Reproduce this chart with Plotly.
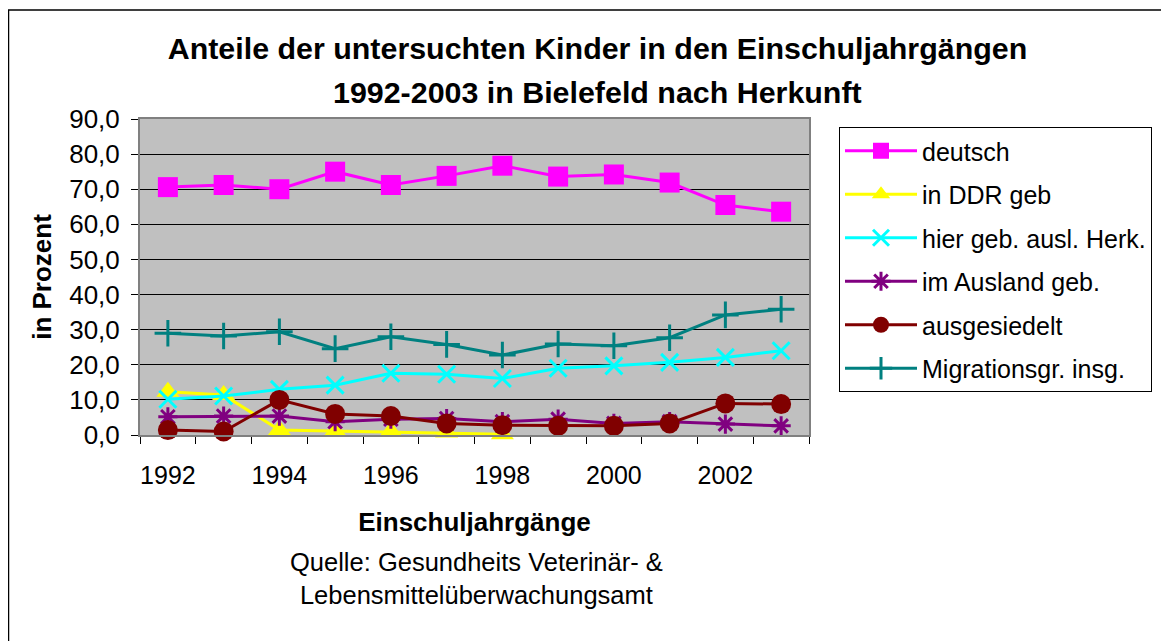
import plotly.graph_objects as go

years = list(range(1992, 2004))
deutsch = [70.6, 71.2, 70.0, 75.0, 71.2, 73.8, 76.7, 73.6, 74.2, 71.9, 65.5, 63.6]
ddr = [12.3, 11.4, 1.4, 1.1, 1.0, 0.7, 0.2, None, None, None, None, None]
hier = [10.2, 11.1, 13.0, 14.2, 17.6, 17.3, 16.1, 19.0, 19.7, 20.7, 22.1, 24.0]
ausland = [5.2, 5.4, 5.4, 3.8, 4.5, 4.7, 3.8, 4.5, 3.3, 3.8, 3.1, 2.6]
ausgesiedelt = [1.4, 1.0, 10.0, 6.0, 5.4, 3.3, 2.8, 2.6, 2.6, 3.3, 9.0, 8.8]
migration = [29.0, 28.2, 29.4, 24.6, 28.0, 25.8, 22.8, 25.9, 25.4, 27.7, 34.2, 35.8]
tick_years = [1992, 1994, 1996, 1998, 2000, 2002]

series = [
    ("deutsch", deutsch, "#FF00FF", "square", 20, 0),
    ("in DDR geb", ddr, "#FFFF00", "triangle-up", 20, 0),
    ("hier geb. ausl. Herk.", hier, "#00FFFF", "x-thin-open", 17, 3),
    ("im Ausland geb.", ausland, "#800080", "asterisk-open", 16, 3),
    ("ausgesiedelt", ausgesiedelt, "#800000", "circle", 20, 0),
    ("Migrationsgr. insg.", migration, "#008080", "cross-thin-open", 19, 3),
]

FONT = "Liberation Sans, Arial, sans-serif"
W, H = 1161, 633          # page has an 8px body margin
L, R, T, B = 132, 801, 111, 427   # plot area in figure pixels
PW, PH = R - L, B - T

def px(x):
    return (x - L) / PW

def py(y):
    return (B - y) / PH

fig = go.Figure()
for i, (name, vals, col, sym, size, lw) in enumerate(series):
    marker = dict(symbol=sym, size=size, color=col)
    if lw:
        marker["line"] = dict(color=col, width=lw)
    else:
        marker["line"] = dict(width=0)
    fig.add_trace(go.Scatter(
        x=years, y=vals, name=name, mode="lines+markers",
        line=dict(color=col, width=3), marker=marker,
        cliponaxis=False, legendgroup=f"g{i}",
    ))

fig.update_layout(
    width=W, height=H,
    margin=dict(l=L, r=W - R, t=T, b=H - B),
    paper_bgcolor="white", plot_bgcolor="#C0C0C0",
    separators=",.",
    font=dict(family=FONT, size=25, color="black"),
    title=dict(
        text="<b>Anteile der untersuchten Kinder in den Einschuljahrgängen</b>",
        x=589.5 / W, xanchor="center", y=1 - 40 / H, yanchor="middle",
        font=dict(family=FONT, size=30.4, color="black"),
    ),
    showlegend=True,
    legend=dict(
        x=px(831), xanchor="left", y=py(119), yanchor="top",
        bordercolor="black", borderwidth=1, bgcolor="white",
        font=dict(family=FONT, size=25, color="black"),
        itemwidth=72, tracegroupgap=8, traceorder="grouped",
    ),
    xaxis=dict(
        range=[1991.5, 2003.5], tickmode="array", tickvals=tick_years,
        ticktext=[str(y) for y in tick_years], ticks="", showgrid=False,
        zeroline=False, showline=True, linecolor="#808080", linewidth=2, mirror=True,
        tickfont=dict(size=25), ticklabelstandoff=17,
        minor=dict(tick0=1991.5, dtick=1, ticks="outside", ticklen=7,
                   tickcolor="black", tickwidth=1, showgrid=False),
        title=dict(text="<b>Einschuljahrgänge</b>", font=dict(size=26), standoff=25),
    ),
    yaxis=dict(
        range=[0, 90], dtick=10, tickformat=".1f", ticks="outside", ticklen=7,
        tickcolor="black", showgrid=True, gridcolor="black", gridwidth=1,
        zeroline=False, showline=True, linecolor="#808080", linewidth=2, mirror=True,
        tickfont=dict(size=26), ticklabelstandoff=6,
        title=dict(text="<b>in Prozent</b>", font=dict(size=26), standoff=10),
    ),
    annotations=[
        dict(text="<b>1992-2003 in Bielefeld nach Herkunft</b>",
             xref="paper", yref="paper", x=px(589.5), y=py(84),
             xanchor="center", yanchor="middle", showarrow=False,
             font=dict(family=FONT, size=30.4, color="black")),
        dict(text="Quelle: Gesundheits Veterinär- &<br>Lebensmittelüberwachungsamt",
             xref="paper", yref="paper", x=px(468.5), y=py(570),
             xanchor="center", yanchor="middle", showarrow=False,
             font=dict(family=FONT, size=25.5, color="black"), align="center"),
    ],
    shapes=[
        dict(type="rect", xref="paper", yref="paper", x0=px(0.5), x1=px(1157),
             y0=py(660), y1=py(2), line=dict(color="black", width=1.5),
             fillcolor="rgba(0,0,0,0)", layer="below"),
    ],
)

fig.write_html("out.html")
